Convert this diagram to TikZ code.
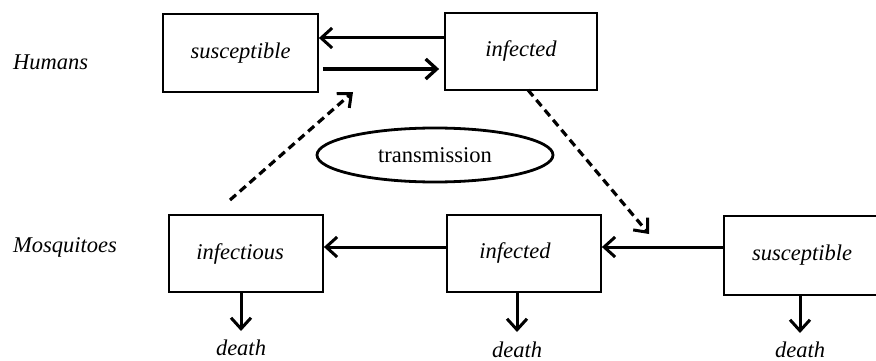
\documentclass[tikz,border=0pt]{standalone}
\usepackage{fontspec}
\setmainfont{Liberation Serif}
\usetikzlibrary{arrows.meta,shapes.geometric}
\tikzset{
  box/.style={draw, line width=1.8pt, rectangle, inner sep=0pt, font=\fontsize{22.5}{26}\selectfont\itshape},
  lbl/.style={inner sep=0pt, font=\fontsize{22.5}{26}\selectfont\itshape},
  flow/.style={line width=3pt, -{Straight Barb[length=11pt,width=20pt,line width=3pt]}},
  tflow/.style={line width=4pt, -{Straight Barb[length=11pt,width=20pt,line width=3.3pt]}},
  dflow/.style={line width=3.2pt, dash pattern=on 8pt off 5pt, -{Straight Barb[length=11pt,width=19pt,line width=3pt]}},
}
\begin{document}
\begin{tikzpicture}[x=1pt,y=-1pt]
\useasboundingbox (0,0) rectangle (876,361);
% labels
\node[lbl, anchor=west] (humans) at (13,62) {Humans};
\node[lbl, anchor=west] (mosq) at (13,247) {Mosquitoes};
% human boxes
\node[box, minimum width=155pt, minimum height=78pt] (hs) at (240.5,53) {\raisebox{4pt}{susceptible}};
\node[box, minimum width=152pt, minimum height=77pt] (hi) at (521,51.5) {\raisebox{5pt}{infected}};
% mosquito boxes
\node[box, minimum width=154pt, minimum height=77pt] (mf) at (246,253.5) {\hspace*{-12pt}\raisebox{0pt}{infectious}};
\node[box, minimum width=154pt, minimum height=77pt] (mi) at (524,253.5) {\hspace*{-18pt}\raisebox{5pt}{infected}};
\node[box, minimum width=158pt, minimum height=79pt] (ms) at (803,255.5) {\hspace*{-2pt}\raisebox{6pt}{susceptible}};
% transmission
\node[draw, ellipse, line width=2.8pt, minimum width=236pt, minimum height=54pt, inner sep=0pt,
      font=\fontsize{22.5}{26}\selectfont] (tr) at (435,155) {transmission};
% human arrows
\draw[flow] (hi.west |- 0,38) -- (hs.east |- 0,38);
\draw[tflow] ([xshift=4pt]hs.east |- 0,69) -- ([xshift=-5pt]hi.west |- 0,69);
% mosquito arrows
\draw[flow] (mi.west |- 0,247) -- (mf.east |- 0,247);
\coordinate (msin) at (mi.east |- 0,247);
\draw[flow] (ms.west |- 0,247) -- (msin);
% dashed transmission arrows
\coordinate (dstart1) at (230,200);
\coordinate (dend1) at (353,92);
\draw[dflow] (dstart1) -- (dend1);
\coordinate (dstart2) at (528,90);
\coordinate (dend2) at (649,234);
\draw[dflow] (dstart2) -- (dend2);
% deaths
\node[lbl] (d1) at (241,348) {death};
\node[lbl] (d2) at (517,350) {death};
\node[lbl] (d3) at (800,350) {death};
\coordinate (e1) at (241,331);
\coordinate (e2) at (517,332);
\coordinate (e3) at (800,333);
\draw[flow] (mf.south -| d1) -- (e1);
\draw[flow] (mi.south -| d2) -- (e2);
\draw[flow] (ms.south -| d3) -- (e3);
\end{tikzpicture}
\end{document}
